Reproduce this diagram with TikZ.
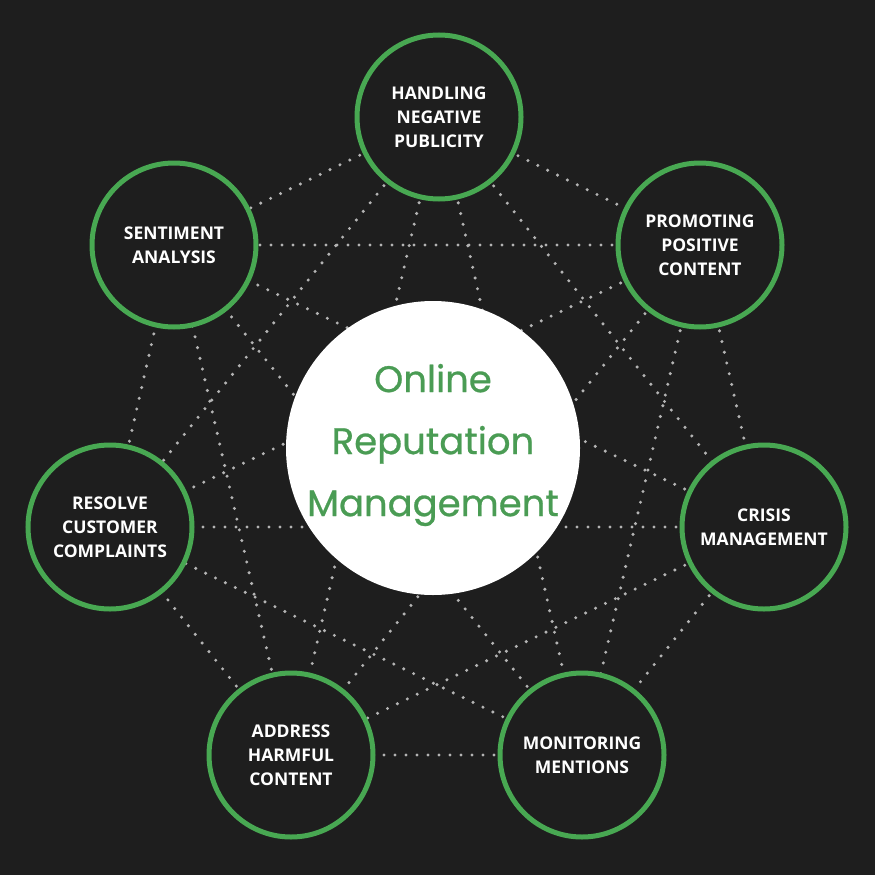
\documentclass[tikz,border=0pt]{standalone}
\usepackage{fontspec}
\setmainfont{Open Sans}
\newfontfamily\centerfont[FakeBold=0.7]{Poppins}
\definecolor{bgc}{HTML}{1E1E1E}
\definecolor{ringgreen}{HTML}{48A852}
\definecolor{titlegreen}{HTML}{4A9C54}
\definecolor{dotc}{HTML}{B4B4B4}
\begin{document}
\begin{tikzpicture}[x=1pt,y=-1pt,
  outer/.style={circle,draw=ringgreen,line width=5pt,fill=bgc,minimum size=164pt,inner sep=0pt,
    text=white,font=\bfseries\fontsize{17.5}{24}\selectfont,align=center},
  hubdisc/.style={circle,fill=white,minimum size=294pt,inner sep=0pt},
  hubtext/.style={text=titlegreen,inner sep=0pt,
    font=\centerfont\fontsize{37}{62}\selectfont,align=center},
  dotline/.style={draw=dotc,line width=3.4pt,line cap=round,dash pattern=on 0pt off 11pt}]
\fill[bgc] (0,0) rectangle (875,875);
\useasboundingbox (0,0) rectangle (875,875);
\coordinate (p1) at (439,117);
\coordinate (p2) at (700,245);
\coordinate (p3) at (764,527);
\coordinate (p4) at (582,755);
\coordinate (p5) at (291,755);
\coordinate (p6) at (110,527);
\coordinate (p7) at (174,245);
\foreach \i in {1,...,7}{
  \foreach \j in {1,...,7}{
    \ifnum\i<\j
      \path[dotline] (p\i) -- (p\j);
    \fi
  }
}
\node[hubdisc] (hub) at (433,448) {};
\node[hubtext] (hubt) at (433,445) {Online\\Reputation\\Management};
\node[outer] (n1) at (p1) {HANDLING\\NEGATIVE\\PUBLICITY};
\node[outer] (n2) at (p2) {PROMOTING\\POSITIVE\\CONTENT};
\node[outer] (n3) at (p3) {CRISIS\\MANAGEMENT};
\node[outer] (n4) at (p4) {MONITORING\\MENTIONS};
\node[outer] (n5) at (p5) {ADDRESS\\HARMFUL\\CONTENT};
\node[outer] (n6) at (p6) {RESOLVE\\CUSTOMER\\COMPLAINTS};
\node[outer] (n7) at (p7) {SENTIMENT\\ANALYSIS};
\end{tikzpicture}
\end{document}
